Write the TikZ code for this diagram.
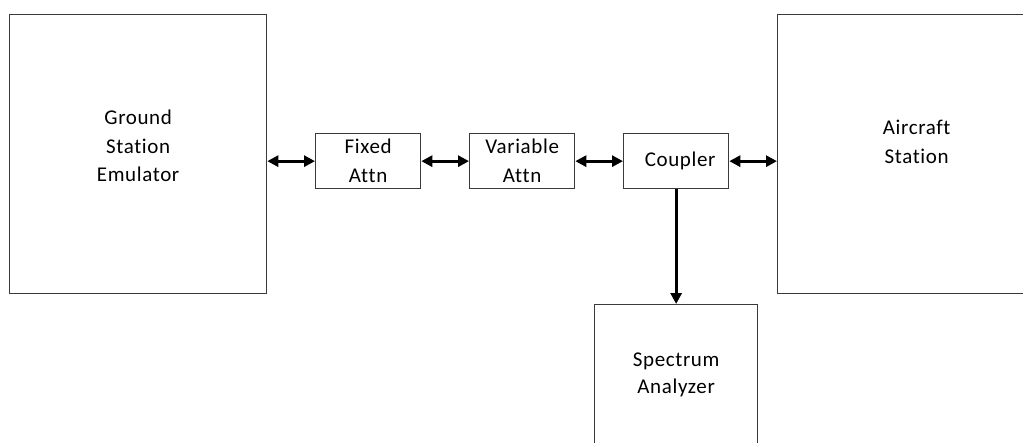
\documentclass[tikz,border=0pt]{standalone}
\usepackage{fontspec}
\setmainfont{Carlito}[Ligatures=NoCommon,LetterSpace=3]
\usetikzlibrary{arrows.meta}
\definecolor{edge}{HTML}{3A3A3A}
\tikzset{
  blockbox/.style={draw=edge, line width=1.3pt, fill=white, inner sep=0pt, align=center,
    font=\fontsize{21}{29}\selectfont},
  link/.style={line width=3pt, {Triangle[length=11pt,width=11pt]}-{Triangle[length=11pt,width=11pt]}},
  onelink/.style={line width=3pt, -{Triangle[length=11pt,width=11pt]}}
}
\begin{document}
\begin{tikzpicture}[x=1pt,y=-1pt]
\useasboundingbox (0,0) rectangle (1023,442);
\clip (0,0) rectangle (1023,442);
\node[blockbox, anchor=north west, minimum width=257pt, minimum height=279pt, text depth=16pt, font=\fontsize{21}{28.5}\selectfont] (ground) at (9,14) {Ground\\Station\\Emulator};
\node[blockbox, anchor=north west, minimum width=278pt, minimum height=279pt, text depth=24pt] (aircraft) at (777,14) {Aircraft\\Station};
\node[blockbox, anchor=north west, minimum width=105pt, minimum height=55pt] (fixed) at (315,133) {Fixed\\Attn};
\node[blockbox, anchor=north west, minimum width=105pt, minimum height=55pt] (variable) at (469,133) {Variable\\Attn};
\node[blockbox, anchor=north west, minimum width=105pt, minimum height=55pt, text width=95pt] (coupler) at (623,133) {\hspace*{8pt}Coupler};
\node[blockbox, anchor=north west, minimum width=163pt, minimum height=140pt, font=\fontsize{21}{27}\selectfont] (spectrum) at (594,304) {Spectrum\\Analyzer};
\draw[link] (ground.east |- fixed.west) -- (fixed.west);
\draw[link] (fixed.east) -- (variable.west);
\draw[link] (variable.east) -- (coupler.west);
\draw[link] (coupler.east) -- (aircraft.west |- coupler.east);
\draw[onelink] (coupler.south -| spectrum.north) -- (spectrum.north);
\end{tikzpicture}
\end{document}
